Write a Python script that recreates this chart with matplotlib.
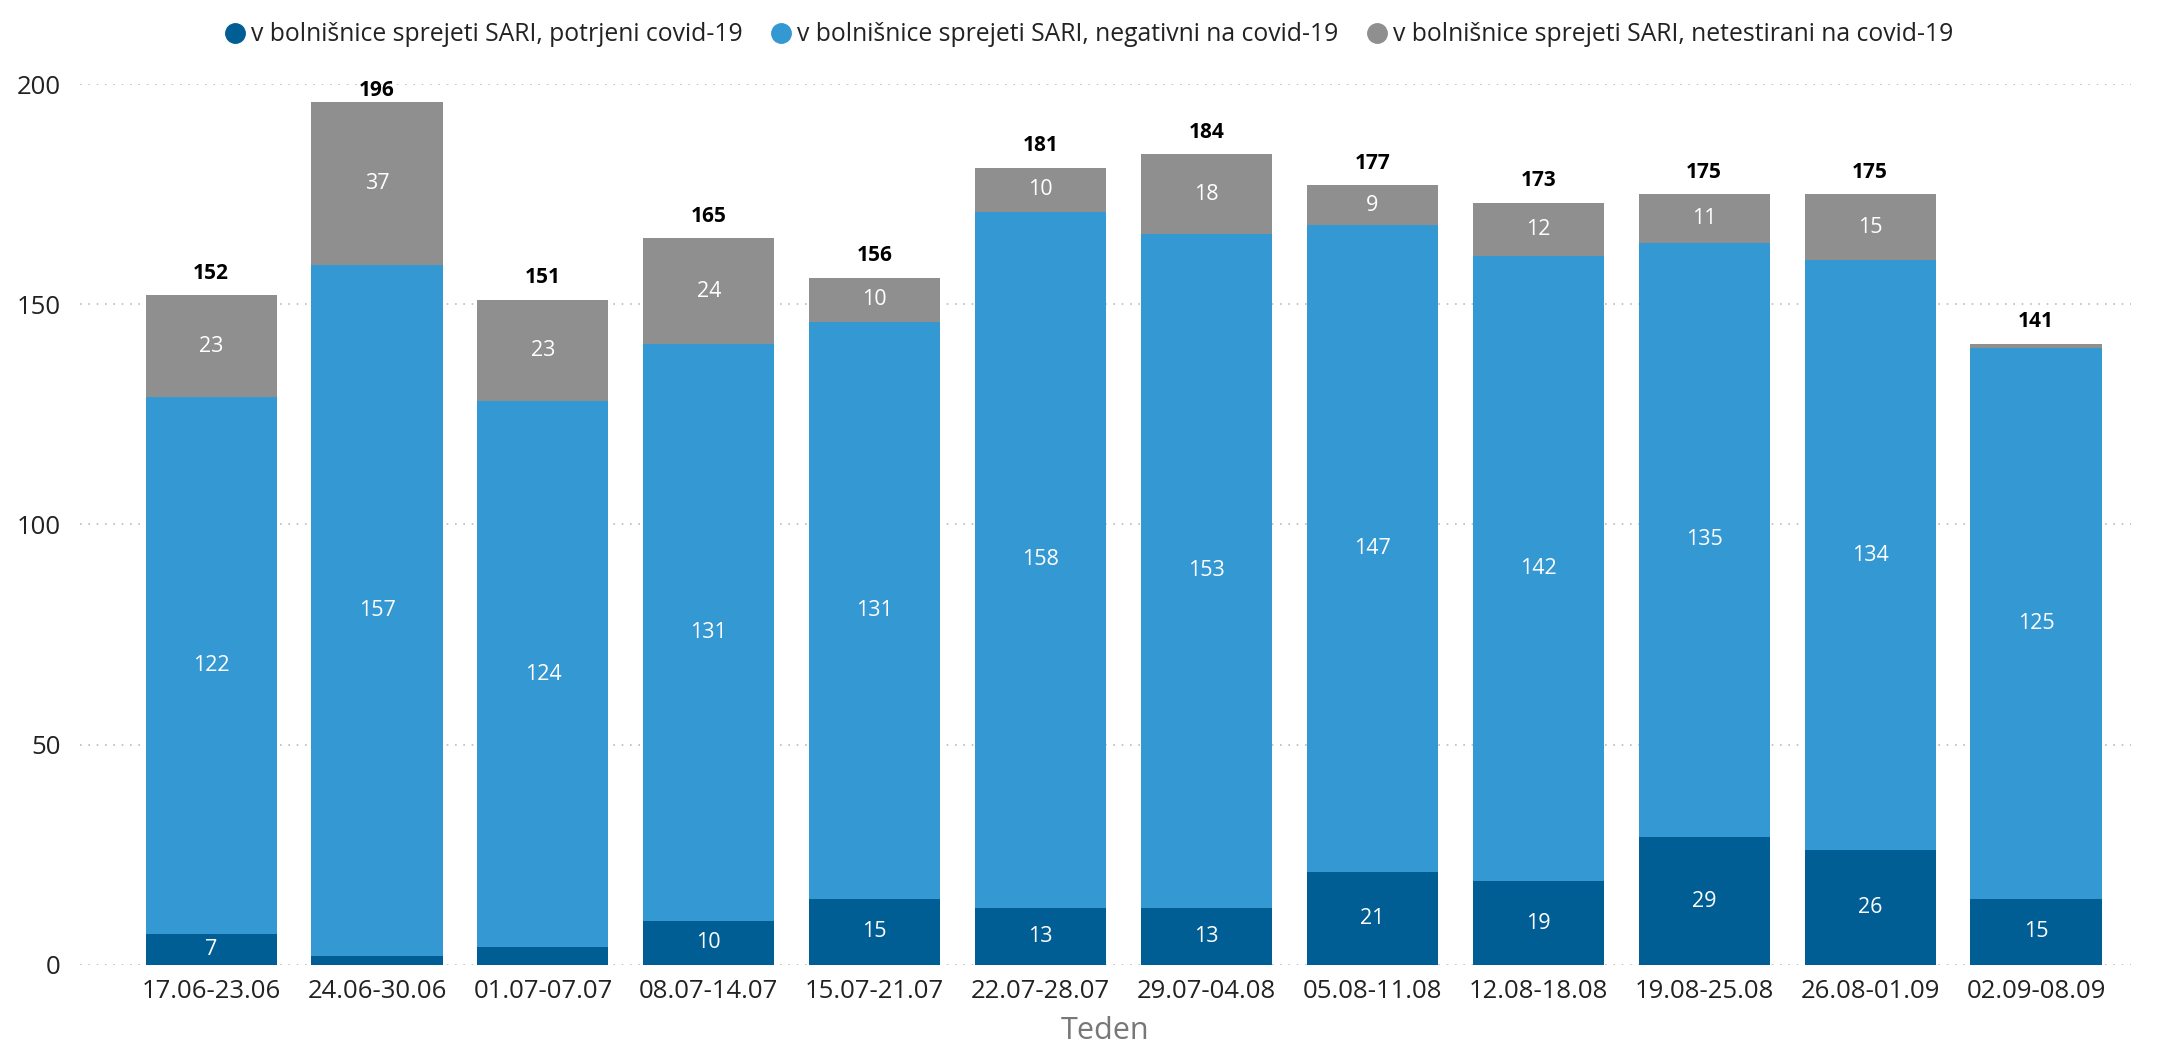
import matplotlib
matplotlib.use("Agg")
import matplotlib.pyplot as plt
from matplotlib.lines import Line2D
import numpy as np

weeks = ["17.06-23.06", "24.06-30.06", "01.07-07.07", "08.07-14.07", "15.07-21.07",
         "22.07-28.07", "29.07-04.08", "05.08-11.08", "12.08-18.08", "19.08-25.08",
         "26.08-01.09", "02.09-08.09"]
confirmed = [7, 2, 4, 10, 15, 13, 13, 21, 19, 29, 26, 15]
negative = [122, 157, 124, 131, 131, 158, 153, 147, 142, 135, 134, 125]
untested = [23, 37, 23, 24, 10, 10, 18, 9, 12, 11, 15, 1]
series_names = ["v bolnišnice sprejeti SARI, potrjeni covid-19",
                "v bolnišnice sprejeti SARI, negativni na covid-19",
                "v bolnišnice sprejeti SARI, netestirani na covid-19"]
colors = ["#005E95", "#3498D3", "#8F8F8F"]
y_ticks = [0, 50, 100, 150, 200]

plt.rcParams['font.family'] = ['Open Sans', 'DejaVu Sans']

fig = plt.figure(figsize=(21.63, 10.5), dpi=100)
ax = fig.add_axes([0.037, 0.081, 0.948, 0.839])

x = np.arange(len(weeks))
width = 0.79
series = [confirmed, negative, untested]
bottom = np.zeros(len(weeks))
min_label = 5
for vals, col in zip(series, colors):
    vals = np.array(vals, dtype=float)
    ax.bar(x, vals, width, bottom=bottom, color=col, zorder=2)
    for xi, v, b in zip(x, vals, bottom):
        if v >= min_label:
            ax.text(xi, b + v / 2, f"{int(v)}", ha='center', va='center',
                    color='white', fontsize=15.5, zorder=3)
    bottom = bottom + vals

totals = bottom
for xi, t in zip(x, totals):
    ypos = min(t + 5, 198.5)
    ax.text(xi, ypos, f"{int(t)}", ha='center', va='center', color='black',
            fontsize=15, fontweight='bold', zorder=3, clip_on=False)

ax.set_ylim(0, 200)
ax.set_xlim(-0.79, 11.57)
ax.set_yticks(y_ticks)
ax.set_yticklabels([str(v) for v in y_ticks], fontsize=18.5, color='#222222')
ax.set_xticks(x)
ax.set_xticklabels(weeks, fontsize=18.5, color='#222222')
ax.tick_params(axis='both', length=0)
ax.tick_params(axis='x', pad=10)
ax.tick_params(axis='y', pad=14)
ax.grid(axis='y', color='#BBBBBB', linestyle=(0, (1, 4)), linewidth=1.2, zorder=0)
ax.grid(axis='x', visible=False)
for s in ax.spines.values():
    s.set_visible(False)
ax.set_xlabel("Teden", fontsize=22, color='#777777', labelpad=9)

handles = [Line2D([0], [0], marker='o', linestyle='none', markersize=14,
                  markerfacecolor=c, markeredgecolor=c) for c in colors]
fig.legend(handles, series_names, loc='upper center', bbox_to_anchor=(0.5, 1.0),
           ncol=3, frameon=False, fontsize=17.8, handletextpad=-0.35,
           columnspacing=0.55, labelcolor='#222222')

fig.savefig("out.png", dpi=100)
